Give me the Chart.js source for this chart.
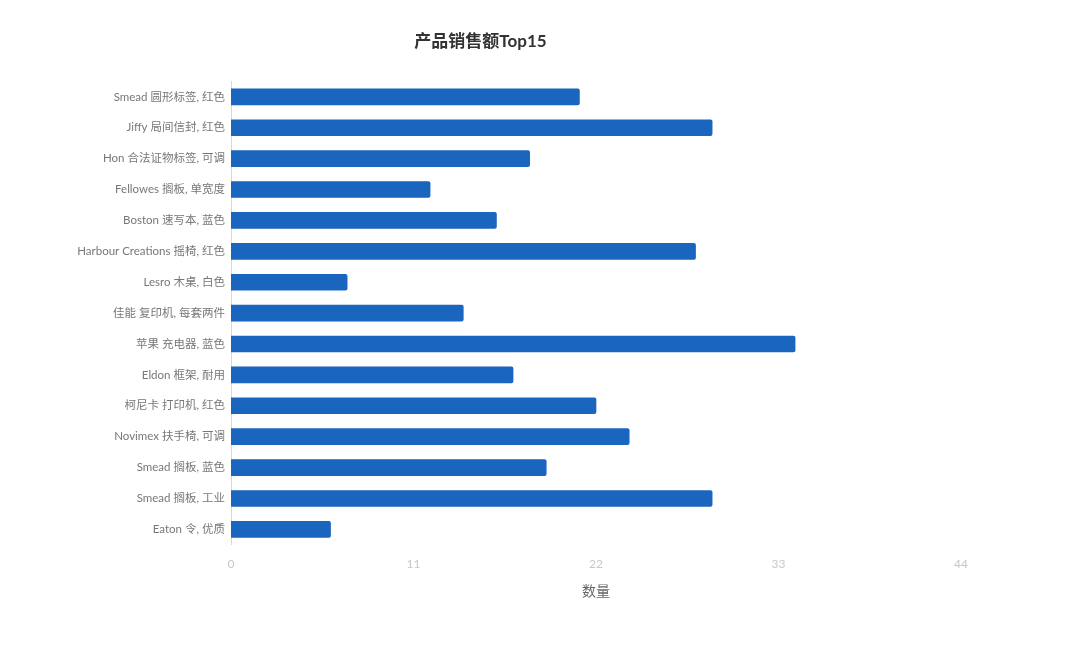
<!DOCTYPE html>
<html>
<head>
<meta charset="utf-8">
<script src="https://cdn.jsdelivr.net/npm/chart.js@4"></script>
<style>
  html, body { margin: 0; padding: 0; background: #fff; }
  #wrap { width: 1080px; height: 659px; }
</style>
</head>
<body>
<div id="wrap"><canvas id="graficoTop15"></canvas></div>
<script>
var productos = ['Smead 圆形标签, 红色', 'Jiffy 局间信封, 红色', 'Hon 合法证物标签, 可调', 'Fellowes 搁板, 单宽度',
  'Boston 速写本, 蓝色', 'Harbour Creations 摇椅, 红色', 'Lesro 木桌, 白色', '佳能 复印机, 每套两件',
  '苹果 充电器, 蓝色', 'Eldon 框架, 耐用', '柯尼卡 打印机, 红色', 'Novimex 扶手椅, 可调',
  'Smead 搁板, 蓝色', 'Smead 搁板, 工业', 'Eaton 令, 优质'];
var cantidad = [21, 29, 18, 12, 16, 28, 7, 14, 34, 17, 22, 24, 19, 29, 6];
var ticksX = [0, 11, 22, 33, 44];

var fuente = "'Lato', 'Noto Sans CJK SC', sans-serif";

var grafico = new Chart(document.getElementById('graficoTop15').getContext('2d'), {
  type: 'bar',
  data: {
    labels: productos,
    datasets: [{
      label: '数量',
      data: cantidad,
      backgroundColor: '#1a65bd',
      barThickness: 16,
      borderRadius: 2,
      borderSkipped: 'start'
    }]
  },
  options: {
    indexAxis: 'y',
    responsive: true,
    maintainAspectRatio: false,
    animation: false,
    layout: { padding: { top: 31, right: 119, bottom: 55, left: 0 } },
    plugins: {
      legend: { display: false },
      tooltip: { enabled: false },
      title: {
        display: true,
        text: '产品销售额Top15',
        color: '#333',
        font: { family: fuente, size: 17, weight: 'bold' },
        padding: { top: 0, bottom: 30 }
      }
    },
    scales: {
      x: {
        min: 0,
        max: 44,
        afterBuildTicks: function (eje) { eje.ticks = ticksX.map(function (v) { return { value: v }; }); },
        grid: { display: false, drawTicks: false },
        border: { display: false },
        ticks: { color: '#c8c8c8', font: { family: fuente, size: 12 }, padding: 12 },
        title: { display: true, text: '数量', color: '#666', font: { family: fuente, size: 14 }, padding: { top: 0 } }
      },
      y: {
        afterFit: function (eje) { eje.width = 231; },
        grid: { display: false, drawTicks: false },
        border: { display: true, color: '#d8d8d8', width: 1 },
        ticks: { color: '#777', font: { family: fuente, size: 11.5 }, padding: 6, autoSkip: false }
      }
    }
  }
});
</script>
</body>
</html>
